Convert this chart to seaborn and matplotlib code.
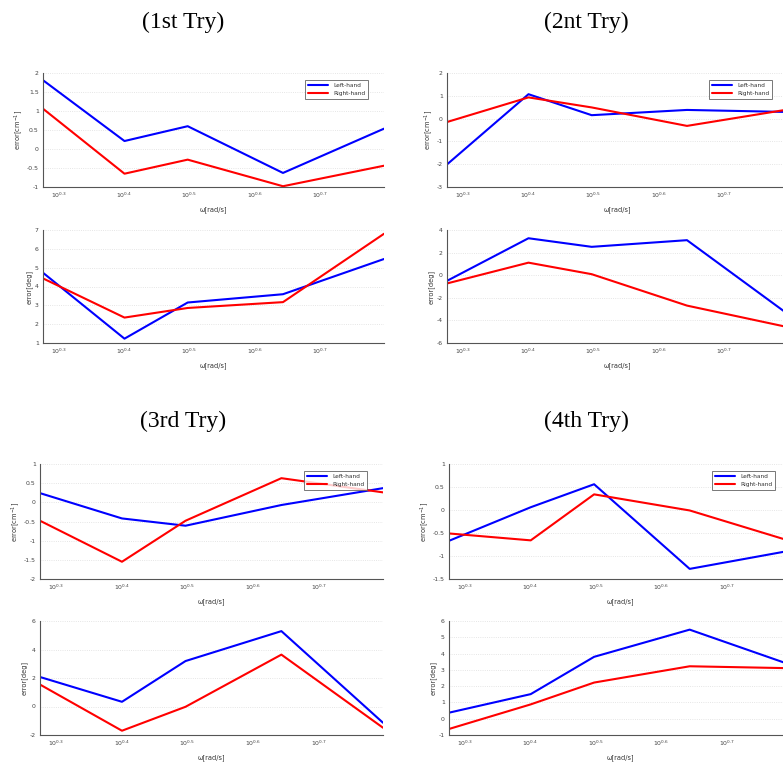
import numpy as np
import pandas as pd
import matplotlib
matplotlib.use("Agg")
import matplotlib.pyplot as plt
import seaborn as sns

# ---- data ----
freq_hz = [0.3, 0.4, 0.5, 0.7, 1.0]
omega = [2 * np.pi * f for f in freq_hz]
hands = ["Left-hand", "Right-hand"]
tries = ["(1st Try)", "(2nt Try)", "(3rd Try)", "(4th Try)"]
xtick_exps = [0.3, 0.4, 0.5, 0.6, 0.7]

amp_left = [
    [1.81, 0.21, 0.60, -0.63, 0.535],
    [-2.01, 1.07, 0.15, 0.38, 0.29],
    [0.24, -0.42, -0.61, -0.07, 0.37],
    [-0.67, 0.06, 0.56, -1.28, -0.88],
]
amp_right = [
    [1.06, -0.65, -0.28, -0.98, -0.44],
    [-0.15, 0.93, 0.49, -0.32, 0.40],
    [-0.48, -1.55, -0.48, 0.63, 0.26],
    [-0.51, -0.66, 0.34, -0.01, -0.68],
]
phase_left = [
    [4.73, 1.23, 3.15, 3.59, 5.46],
    [-0.5, 3.27, 2.51, 3.1, -3.45],
    [2.07, 0.33, 3.19, 5.29, -1.14],
    [0.37, 1.51, 3.80, 5.47, 3.30],
]
phase_right = [
    [4.43, 2.35, 2.86, 3.17, 6.80],
    [-0.73, 1.11, 0.09, -2.69, -4.60],
    [1.54, -1.70, -0.02, 3.64, -1.49],
    [-0.63, 0.88, 2.22, 3.22, 3.10],
]
amp_ylims = [(-1, 2), (-3, 2), (-2, 1), (-1.5, 1)]
amp_ysteps = [0.5, 1, 0.5, 0.5]
phase_ylims = [(1, 7), (-6, 4), (-2, 6), (-1, 6)]
phase_ysteps = [1, 2, 2, 1]
amp_ylabel = "error[cm$^{-1}$]"
phase_ylabel = "error[deg]"
xlabel = "ω[rad/s]"

# ---- layout (pixels) ----
W, H = 783, 763
fig = plt.figure(figsize=(W / 100, H / 100), dpi=100)
sns.set_style("white")
plt.rcParams["font.family"] = ["DejaVu Sans"]

panel_boxes = [
    # (x0, x1, top_y0, top_y1, bot_y0, bot_y1)
    (43, 384, 73, 187, 230, 343),
    (447, 788, 73, 187, 230, 343),
    (40, 383, 464, 579, 621, 735),
    (449, 791, 464, 579, 621, 735),
]
title_pos = [(183, 22), (586, 22), (183, 421), (586, 421)]

def px_axes(x0, x1, y0, y1):
    return fig.add_axes([x0 / W, 1 - y1 / H, (x1 - x0) / W, (y1 - y0) / H])

palette = {"Left-hand": "#0000ff", "Right-hand": "#ff0000"}

def style_axis(ax, ylim, ystep, ylabel, legend):
    ax.set_xscale("log")
    ax.set_xlim(omega[0], omega[-1])
    ax.set_ylim(*ylim)
    ax.set_xticks([10 ** e for e in xtick_exps])
    ax.set_xticklabels([f"$10^{{{e}}}$" for e in xtick_exps])
    ax.minorticks_off()
    yt = np.arange(ylim[0], ylim[1] + 1e-9, ystep)
    ax.set_yticks(yt)
    ax.set_yticklabels([f"{v:g}" for v in yt])
    ax.tick_params(axis="both", direction="in", length=2.5, width=0.6,
                   labelsize=4.4, colors="#444444", pad=3)
    ax.grid(axis="y", color="#dddddd", linestyle=":", linewidth=0.6)
    ax.set_axisbelow(True)
    for s in ["top", "right"]:
        ax.spines[s].set_visible(False)
    for s in ["left", "bottom"]:
        ax.spines[s].set_color("#555555")
        ax.spines[s].set_linewidth(0.8)
    ax.set_xlabel(xlabel, fontsize=4.8, color="#333333", labelpad=4)
    ax.set_ylabel(ylabel, fontsize=4.8, color="#333333", labelpad=1.5)
    if legend:
        leg = ax.legend(loc="upper right", bbox_to_anchor=(0.962, 0.965),
                        fontsize=4.2, frameon=True, fancybox=False,
                        handlelength=3.4, borderpad=0.5, labelspacing=0.45,
                        handletextpad=0.9)
        leg.get_frame().set_edgecolor("#555555")
        leg.get_frame().set_linewidth(0.7)
        for t in leg.get_texts():
            t.set_color("#333333")
    else:
        lg = ax.get_legend()
        if lg is not None:
            lg.remove()

for i in range(4):
    x0, x1, ty0, ty1, by0, by1 = panel_boxes[i]
    ax_top = px_axes(x0, x1, ty0, ty1)
    ax_bot = px_axes(x0, x1, by0, by1)

    df_amp = pd.DataFrame({
        "omega": omega * 2,
        "error": amp_left[i] + amp_right[i],
        "hand": [hands[0]] * 5 + [hands[1]] * 5,
    })
    df_ph = pd.DataFrame({
        "omega": omega * 2,
        "error": phase_left[i] + phase_right[i],
        "hand": [hands[0]] * 5 + [hands[1]] * 5,
    })
    sns.lineplot(data=df_amp, x="omega", y="error", hue="hand",
                 palette=palette, linewidth=1.5, ax=ax_top)
    sns.lineplot(data=df_ph, x="omega", y="error", hue="hand",
                 palette=palette, linewidth=1.5, ax=ax_bot)
    style_axis(ax_top, amp_ylims[i], amp_ysteps[i], amp_ylabel, True)
    style_axis(ax_bot, phase_ylims[i], phase_ysteps[i], phase_ylabel, False)

    tx, ty = title_pos[i]
    fig.text(tx / W, 1 - ty / H, tries[i], ha="center", va="center",
             fontsize=17, color="black",
             family=["Liberation Serif", "DejaVu Serif"])

fig.savefig("out.png", dpi=100)
